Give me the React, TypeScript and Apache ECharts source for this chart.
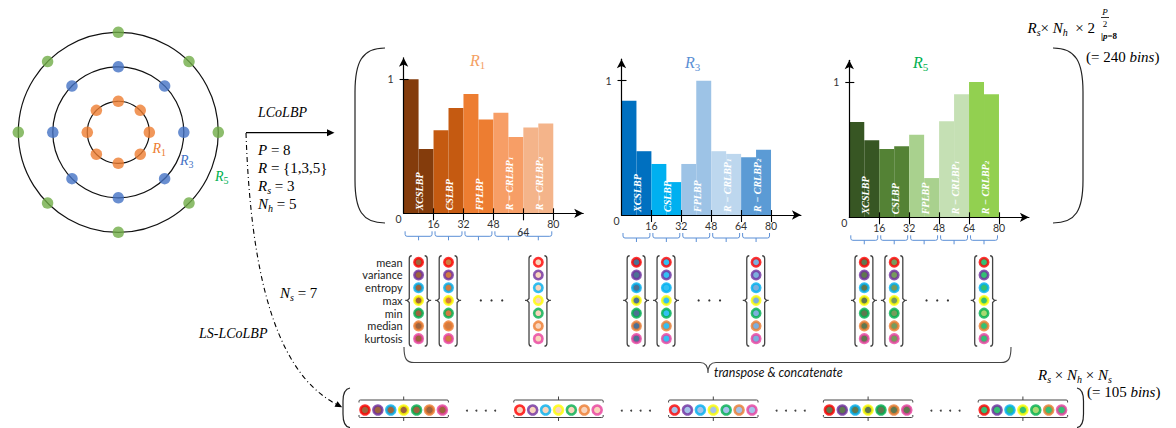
import React, { useEffect, useRef } from 'react';
import * as echarts from 'echarts';

// ---------------- data ----------------
const statNames = ['mean', 'variance', 'entropy', 'max', 'min', 'median', 'kurtosis'];
const statRingColors = ['#FF0000', '#7030A0', '#00B0F0', '#FFFF00', '#00B050', '#ED7D31', '#E8409F'];

const featureLabels = ['XCSLBP', 'CSLBP', 'FPLBP', 'R − CRLBP{d|1}', 'R − CRLBP{d|2}'];
const xTickValues = [16, 32, 48, 64, 80];
const yTickValues = [1];
const yLabelValues = [0, 1];
const binsPerFeature = 16;
const barsPerFeature = 2;

const r1Values = [1.0, 0.48, 0.62, 0.785, 0.89, 0.7, 0.75, 0.57, 0.64, 0.67];
const r3Values = [0.85, 0.475, 0.38, 0.245, 0.38, 1.0, 0.475, 0.455, 0.43, 0.485];
const r5Values = [0.705, 0.57, 0.505, 0.525, 0.61, 0.29, 0.71, 0.91, 1.0, 0.91];

const r1Colors = ['#843C0C', '#C55A11', '#ED7D31', '#F79E66', '#F4B48A'];
const r3Colors = ['#0070C0', '#00B0F0', '#9DC3E6', '#BDD7EE', '#5B9BD5'];
const r5Colors = ['#375623', '#548235', '#A9D18E', '#C5E0B4', '#92D050'];

const shownColumnCenters = [8, 24, 72];
const ellipsisCenter = 47;

const r1ColumnInner = [
  ['#843C0C', '#843C0C', '#843C0C', '#843C0C', '#843C0C', '#843C0C', '#843C0C'],
  ['#C55A11', '#C55A11', '#C55A11', '#C55A11', '#C55A11', '#C55A11', '#C55A11'],
  ['#F8CBAD', '#F8CBAD', '#F8CBAD', '#F8CBAD', '#F8CBAD', '#F8CBAD', '#F8CBAD'],
];
const r3ColumnInner = [
  ['#1F4E79', '#1F4E79', '#1F4E79', '#1F4E79', '#1F4E79', '#1F4E79', '#1F4E79'],
  ['#00B0F0', '#00B0F0', '#00B0F0', '#00B0F0', '#00B0F0', '#00B0F0', '#00B0F0'],
  ['#5B9BD5', '#5B9BD5', '#5B9BD5', '#5B9BD5', '#5B9BD5', '#5B9BD5', '#5B9BD5'],
];
const r5ColumnInner = [
  ['#375623', '#375623', '#375623', '#375623', '#375623', '#375623', '#375623'],
  ['#548235', '#548235', '#548235', '#548235', '#548235', '#548235', '#548235'],
  ['#00B050', '#00B050', '#00B050', '#00B050', '#92D050', '#00B050', '#00B050'],
];
const r3LightInner = ['#8FB4E3', '#8FB4E3', '#8FB4E3', '#8FB4E3', '#8FB4E3', '#8FB4E3', '#8FB4E3'];

const bottomGroupStarts = [0, 12, 24, 36, 48];
const bottomGroupInner = [r1ColumnInner[0], r1ColumnInner[2], r3LightInner, r5ColumnInner[0], r5ColumnInner[2]];

const ringRadii = [1, 3, 5];
const ringDotColors = ['#ED7D31', '#4472C4', '#70AD47'];
const neighbourAngles = [0, 45, 90, 135, 180, 225, 270, 315];

const histValues = [r1Values, r3Values, r5Values];
const histColors = [r1Colors, r3Colors, r5Colors];
const histColumnInner = [r1ColumnInner, r3ColumnInner, r5ColumnInner];

// ---------------- layout ----------------
const SERIF = 'Liberation Serif';
const SANS = 'Lato';
const X_MAX = 96;
const Y_MAX = 1.16;
const HIST_LAYOUT = [
  { left: 403.6, base: 213.3, unitY: 134, unitX: 1.871 },
  { left: 621.5, base: 215, unitY: 134.3, unitX: 1.869 },
  { left: 849.3, base: 217.3, unitY: 135.3, unitX: 1.871 },
];
const STATS_TOP = 255.9;
const STATS_HEIGHT = 89.1;

function mathRich(size: number, color = '#000') {
  const sub = Math.round(size * 0.68);
  return {
    i: { fontFamily: SERIF, fontStyle: 'italic', fontSize: size, lineHeight: size + 4, fill: color, color },
    n: { fontFamily: SERIF, fontSize: size, lineHeight: size + 4, fill: color, color },
    s: { fontFamily: SERIF, fontStyle: 'italic', fontSize: sub, lineHeight: sub, verticalAlign: 'bottom', fill: color, color },
    d: { fontFamily: SERIF, fontSize: sub, lineHeight: sub, verticalAlign: 'bottom', fill: color, color },
    b: { fontFamily: SERIF, fontWeight: 'bold', fontStyle: 'italic', fontSize: size, lineHeight: size + 4, fill: color, color },
  };
}

function gText(x: number, y: number, text: string, size: number, color = '#000', font?: string, align = 'left') {
  return {
    type: 'text',
    x,
    y,
    silent: true,
    z: 20,
    style: {
      text,
      fill: color,
      font: font || `${size}px "${SERIF}"`,
      align,
      verticalAlign: 'middle',
      textAlign: align,
      textVerticalAlign: 'middle',
      rich: mathRich(size, color),
    },
  };
}

function buildOption(): any {
  const grids: any[] = [];
  const xAxes: any[] = [];
  const yAxes: any[] = [];
  const series: any[] = [];
  const axisFont = { fontFamily: SANS, fontSize: 10.5, color: '#333' };
  const binW = binsPerFeature / barsPerFeature;

  // histogram grids 0..2
  HIST_LAYOUT.forEach((L) => {
    grids.push({
      left: L.left,
      top: L.base - Y_MAX * L.unitY,
      width: X_MAX * L.unitX,
      height: Y_MAX * L.unitY,
      containLabel: false,
      outerBoundsMode: 'none',
    });
  });
  // stats grids 3..5
  HIST_LAYOUT.forEach((L) => {
    grids.push({ left: L.left, top: STATS_TOP, width: X_MAX * L.unitX, height: STATS_HEIGHT, containLabel: false, outerBoundsMode: 'none' });
  });
  // bottom grid 6
  grids.push({ left: 365, top: 400, width: 774, height: 20, containLabel: false, outerBoundsMode: 'none' });

  // main x axes 0..2
  HIST_LAYOUT.forEach((L, h) => {
    xAxes.push({
      gridIndex: h,
      type: 'value',
      min: 0,
      max: X_MAX,
      position: 'bottom',
      z: 10,
      axisLine: { show: true, onZero: false, symbol: ['none', 'arrow'], symbolSize: [7, 9], lineStyle: { color: '#000', width: 1.2 } },
      axisTick: { show: true, customValues: xTickValues, length: 7, lineStyle: { color: '#000', width: 1.1 } },
      axisLabel: {
        show: true,
        customValues: xTickValues,
        margin: 5,
        ...axisFont,
        formatter: (v: number) => (h === 0 && v === 64 ? '{lo|64}' : '{n|' + v + '}'),
        rich: { n: { ...axisFont }, lo: { ...axisFont, padding: [8, 0, 0, 0] } },
      },
      splitLine: { show: false },
    });
  });
  // inner tick x axes 3..5
  HIST_LAYOUT.forEach((L, h) => {
    xAxes.push({
      gridIndex: h,
      type: 'value',
      min: 0,
      max: X_MAX,
      position: 'bottom',
      z: 10,
      axisLine: { show: false, onZero: false },
      axisTick: { show: true, inside: true, customValues: xTickValues, length: 5, lineStyle: { color: '#000', width: 1.1 } },
      axisLabel: { show: false },
      splitLine: { show: false },
    });
  });
  // stats x 6..8
  HIST_LAYOUT.forEach((L, h) => {
    xAxes.push({ gridIndex: 3 + h, type: 'value', min: 0, max: X_MAX, show: false, splitLine: { show: false } });
  });
  // bottom x 9
  xAxes.push({ gridIndex: 6, type: 'value', min: 0, max: 60, show: false, splitLine: { show: false } });

  // main y axes 0..2
  HIST_LAYOUT.forEach((L, h) => {
    yAxes.push({
      gridIndex: h,
      type: 'value',
      min: 0,
      max: Y_MAX,
      position: 'left',
      z: 10,
      axisLine: { show: true, onZero: false, symbol: ['none', 'arrow'], symbolSize: [7, 9], lineStyle: { color: '#000', width: 1.2 } },
      axisTick: { show: true, customValues: yTickValues, length: 4, lineStyle: { color: '#000', width: 1.1 } },
      axisLabel: {
        show: true,
        customValues: yLabelValues,
        margin: 2,
        ...axisFont,
        formatter: (v: number) => (v === 0 ? '{z|0}' : '{o|' + v + '}'),
        rich: { z: { ...axisFont, padding: [12, 0, 0, 0] }, o: { ...axisFont, padding: [0, 8, 0, 0] } },
      },
      splitLine: { show: false },
    });
  });
  // inner tick y axes 3..5
  HIST_LAYOUT.forEach((L, h) => {
    yAxes.push({
      gridIndex: h,
      type: 'value',
      min: 0,
      max: Y_MAX,
      position: 'left',
      z: 10,
      axisLine: { show: false, onZero: false },
      axisTick: { show: true, inside: true, customValues: yTickValues, length: 5, lineStyle: { color: '#000', width: 1.1 } },
      axisLabel: { show: false },
      splitLine: { show: false },
    });
  });
  // stats y 6..8
  HIST_LAYOUT.forEach((L, h) => {
    yAxes.push({
      gridIndex: 3 + h,
      type: 'category',
      data: statNames,
      inverse: true,
      axisLine: { show: false },
      axisTick: { show: false },
      axisLabel: { show: h === 0, interval: 0, margin: 1, fontFamily: SANS, fontSize: 11, color: '#222' },
      splitLine: { show: false },
    });
  });
  // bottom y 9
  yAxes.push({ gridIndex: 6, type: 'value', min: -1, max: 1, show: false, splitLine: { show: false } });

  // ---------- histogram series ----------
  histValues.forEach((values, h) => {
    const colors = histColors[h];
    series.push({
      type: 'custom',
      xAxisIndex: h,
      yAxisIndex: h,
      clip: false,
      z: 2,
      silent: true,
      data: values.map((v, k) => [k * binW, (k + 1) * binW, v, Math.floor(k / barsPerFeature)]),
      renderItem: (params: any, api: any) => {
        const p0 = api.coord([api.value(0), api.value(2)]);
        const p1 = api.coord([api.value(1), 0]);
        return {
          type: 'rect',
          shape: { x: p0[0], y: p0[1], width: p1[0] - p0[0], height: p1[1] - p0[1] },
          style: { fill: colors[api.value(3)] },
        };
      },
    });
    // vertical feature labels
    series.push({
      type: 'custom',
      xAxisIndex: h,
      yAxisIndex: h,
      clip: false,
      z: 3,
      silent: true,
      data: featureLabels.map((_, g) => [g * binsPerFeature + binsPerFeature / 2, g]),
      renderItem: (params: any, api: any) => {
        const p = api.coord([api.value(0), 0]);
        return {
          type: 'text',
          x: p[0] + 1,
          y: p[1] - 3,
          rotation: Math.PI / 2,
          style: {
            text: featureLabels[api.value(1)],
            fill: '#fff',
            font: `italic bold 10px "${SERIF}"`,
            align: 'left',
            verticalAlign: 'middle',
            textAlign: 'left',
            textVerticalAlign: 'middle',
            rich: {
              d: { fontFamily: SERIF, fontStyle: 'italic', fontWeight: 'bold', fontSize: 7, lineHeight: 7, verticalAlign: 'bottom', fill: '#fff' },
            },
          },
        };
      },
    });
    // blue braces under feature groups
    series.push({
      type: 'custom',
      xAxisIndex: h,
      yAxisIndex: h,
      clip: false,
      z: 3,
      silent: true,
      data: featureLabels.map((_, g) => [g * binsPerFeature, (g + 1) * binsPerFeature]),
      renderItem: (params: any, api: any) => {
        const a = api.coord([api.value(0), 0]);
        const b = api.coord([api.value(1), 0]);
        const x0 = a[0] + 1.5;
        const x1 = b[0] - 1.5;
        const xm = (x0 + x1) / 2;
        const y0 = a[1] + 18;
        const y1 = a[1] + 23;
        const d = `M${x0},${y0} L${x0},${y1 - 2} Q${x0},${y1} ${x0 + 2},${y1} L${x1 - 2},${y1} Q${x1},${y1} ${x1},${y1 - 2} L${x1},${y0} M${xm},${y1} L${xm},${y1 + 4}`;
        return { type: 'path', shape: { pathData: d }, style: { fill: 'none', stroke: '#5B8FD6', lineWidth: 1 } };
      },
    });

    // ---------- statistics columns ----------
    const inner = histColumnInner[h];
    series.push({
      type: 'scatter',
      xAxisIndex: 6 + h,
      yAxisIndex: 6 + h,
      symbol: 'circle',
      symbolSize: 8.4,
      z: 4,
      silent: true,
      data: shownColumnCenters.flatMap((x, c) =>
        statNames.map((s, i) => ({
          value: [x, i],
          itemStyle: { color: inner[c][i], borderColor: statRingColors[i], borderWidth: 2.6 },
        }))
      ),
    });
    series.push({
      type: 'custom',
      xAxisIndex: 6 + h,
      yAxisIndex: 6 + h,
      clip: false,
      z: 3,
      silent: true,
      data: shownColumnCenters.map((x) => [x, 0]),
      renderItem: (params: any, api: any) => {
        const x = api.value(0);
        const top = api.coord([x, 0]);
        const bot = api.coord([x, statNames.length - 1]);
        const mid = api.coord([x, 3]);
        const yT = top[1] - 6.5;
        const yB = bot[1] + 7.5;
        const ym = mid[1];
        const xl = top[0] - 9.3;
        const xr = top[0] + 8.6;
        const dl = `M${xl + 2.5},${yT} Q${xl},${yT} ${xl},${yT + 3} L${xl},${ym - 2} L${xl - 2},${ym} L${xl},${ym + 2} L${xl},${yB - 3} Q${xl},${yB} ${xl + 2.5},${yB} M${xl - 2},${ym} L${xl - 4},${ym}`;
        const dr = `M${xr - 2.5},${yT} Q${xr},${yT} ${xr},${yT + 3} L${xr},${ym - 2} L${xr + 2},${ym} L${xr},${ym + 2} L${xr},${yB - 3} Q${xr},${yB} ${xr - 2.5},${yB} M${xr + 2},${ym} L${xr + 4},${ym}`;
        return {
          type: 'group',
          children: [
            { type: 'path', shape: { pathData: dl }, style: { fill: 'none', stroke: '#444', lineWidth: 1.3 } },
            { type: 'path', shape: { pathData: dr }, style: { fill: 'none', stroke: '#444', lineWidth: 1.3 } },
          ],
        };
      },
    });
    series.push({
      type: 'custom',
      xAxisIndex: 6 + h,
      yAxisIndex: 6 + h,
      clip: false,
      z: 3,
      silent: true,
      data: [[ellipsisCenter, 3]],
      renderItem: (params: any, api: any) => {
        const p = api.coord([api.value(0), api.value(1)]);
        return {
          type: 'group',
          children: [-10.7, 0, 10.7].map((o) => ({ type: 'circle', shape: { cx: p[0] + o, cy: p[1], r: 1.1 }, style: { fill: '#333' } })),
        };
      },
    });
  });

  // ---------- bottom concatenated vector ----------
  series.push({
    type: 'scatter',
    xAxisIndex: 9,
    yAxisIndex: 9,
    symbol: 'circle',
    symbolSize: 9,
    z: 4,
    silent: true,
    data: bottomGroupStarts.flatMap((s, g) =>
      statNames.map((n, i) => ({
        value: [s + i, 0],
        itemStyle: { color: bottomGroupInner[g][i], borderColor: statRingColors[i], borderWidth: 2.6 },
      }))
    ),
  });
  series.push({
    type: 'custom',
    xAxisIndex: 9,
    yAxisIndex: 9,
    clip: false,
    z: 3,
    silent: true,
    data: bottomGroupStarts.map((s) => [s, s + statNames.length - 1]),
    renderItem: (params: any, api: any) => {
      const a = api.coord([api.value(0), 0]);
      const b = api.coord([api.value(1), 0]);
      const x0 = a[0] - 6;
      const x1 = b[0] + 6;
      const xm = (x0 + x1) / 2;
      const yc = a[1];
      const t = yc - 10;
      const u = yc + 7.5;
      const dt = `M${x0},${t + 2.5} L${x0},${t + 1} Q${x0},${t} ${x0 + 1.5},${t} L${x1 - 1.5},${t} Q${x1},${t} ${x1},${t + 1} L${x1},${t + 2.5} M${xm},${t} L${xm},${t - 3.5}`;
      const db = `M${x0},${u - 2.5} L${x0},${u - 1} Q${x0},${u} ${x0 + 1.5},${u} L${x1 - 1.5},${u} Q${x1},${u} ${x1},${u - 1} L${x1},${u - 2.5} M${xm},${u} L${xm},${u + 3.5}`;
      return {
        type: 'group',
        children: [
          { type: 'path', shape: { pathData: dt }, style: { fill: 'none', stroke: '#444', lineWidth: 1 } },
          { type: 'path', shape: { pathData: db }, style: { fill: 'none', stroke: '#444', lineWidth: 1 } },
        ],
      };
    },
  });
  series.push({
    type: 'custom',
    xAxisIndex: 9,
    yAxisIndex: 9,
    clip: false,
    z: 3,
    silent: true,
    data: bottomGroupStarts.slice(0, -1).map((s) => [s + 9, 0]),
    renderItem: (params: any, api: any) => {
      const p = api.coord([api.value(0), 0]);
      return {
        type: 'group',
        children: [-14.1, -4.7, 4.7, 14.1].map((o) => ({ type: 'circle', shape: { cx: p[0] + o, cy: p[1] + 0.7, r: 1 }, style: { fill: '#444' } })),
      };
    },
  });

  // ---------- circular neighbourhood ----------
  series.push({
    type: 'custom',
    coordinateSystem: 'polar',
    polarIndex: 0,
    z: 1,
    silent: true,
    data: ringRadii.map((r) => [r, 0]),
    renderItem: (params: any, api: any) => {
      const cs = params.coordSys;
      const p = api.coord([api.value(0), 0]);
      const rad = Math.hypot(p[0] - cs.cx, p[1] - cs.cy);
      return { type: 'circle', shape: { cx: cs.cx, cy: cs.cy, r: rad }, style: { fill: 'none', stroke: '#111', lineWidth: 1.2 } };
    },
  });
  ringRadii.forEach((r, k) => {
    series.push({
      type: 'scatter',
      coordinateSystem: 'polar',
      polarIndex: 0,
      symbol: 'circle',
      symbolSize: 11.5,
      z: 2,
      silent: true,
      itemStyle: { color: ringDotColors[k] },
      data: neighbourAngles.map((a) => [r, a]),
    });
  });

  // ---------- decorative brackets and arrows ----------
  const deco = (d: string, extra: any = {}) => ({ type: 'path', shape: { pathData: d }, style: { fill: 'none', stroke: '#222', lineWidth: 1.2, ...extra } });
  const curveEnd = [336, 404];
  const cp2 = [268, 368.5];
  const dx = curveEnd[0] - cp2[0];
  const dy = curveEnd[1] - cp2[1];
  const len = Math.hypot(dx, dy);
  const ux = dx / len;
  const uy = dy / len;
  const tip = [curveEnd[0] + 7 * ux, curveEnd[1] + 7 * uy];
  const n = [-uy * 3.2, ux * 3.2];
  series.push({
    type: 'custom',
    coordinateSystem: 'none',
    z: 5,
    silent: true,
    data: [[0]],
    renderItem: () => ({
      type: 'group',
      children: [
        deco('M385,48 C362,48 355,62 355,92 L355,180 C355,210 362,223 385,223'),
        deco('M1053,48 C1076,48 1083,62 1083,92 L1083,180 C1083,210 1076,223 1053,223'),
        deco('M350,388 C344.5,389 343,395 343,401 L343,414 C343,421 344.5,427 350,427.5'),
        deco('M1077,388 C1082,389 1083.5,395 1083.5,401 L1083.5,414 C1083.5,421 1082,427 1077,427.5'),
        deco('M404,347 C404,358 406,362.5 414,362.5 L700,362.5 C705,362.5 708,365 708,373 C708,365 711,362.5 716,362.5 L1001,362.5 C1009,362.5 1011,358 1011,347', { stroke: '#444', lineWidth: 1.1 }),
        deco('M246,132.7 L327,132.7', { stroke: '#000', lineWidth: 1.2 }),
        { type: 'polygon', shape: { points: [[327, 129.2], [334.5, 132.7], [327, 136.2]] }, style: { fill: '#000' } },
        deco(`M246,133 C250,250 ${cp2[0]},${cp2[1]} ${curveEnd[0]},${curveEnd[1]}`, { stroke: '#000', lineWidth: 1.1, lineDash: [5, 3, 1, 3] }),
        {
          type: 'polygon',
          shape: { points: [tip, [curveEnd[0] + n[0], curveEnd[1] + n[1]], [curveEnd[0] - n[0], curveEnd[1] - n[1]]] },
          style: { fill: '#000' },
        },
      ],
    }),
  });

  const graphics: any[] = [
    gText(258, 112, '{i|LCoLBP}', 14),
    gText(258, 150, '{i|P} = 8', 15),
    gText(258, 168, '{i|R} = {1,3,5}', 15),
    gText(258, 186, '{i|R}{s|s} = 3', 15),
    gText(258, 203.5, '{i|N}{s|h} = 5', 15),
    gText(280, 293, '{i|N}{s|s} = 7', 15),
    gText(199, 333, '{i|LS-LCoLBP}', 14),
    gText(152.5, 148, '{i|R}{d|1}', 14, '#ED7D31'),
    gText(180, 160.5, '{i|R}{d|3}', 14, '#4472C4'),
    gText(215, 176, '{i|R}{d|5}', 14, '#00B050'),
    gText(470, 60, '{i|R}{d|1}', 16, '#F4A062'),
    gText(685, 62, '{i|R}{d|3}', 16, '#5B8FD4'),
    gText(913, 62, '{i|R}{d|5}', 16, '#00B050'),
    gText(1027.5, 28, '{i|R}{s|s}× {i|N}{s|h}  × 2', 15),
    gText(1105, 12, '{i|P}', 9, '#000', undefined, 'center'),
    { type: 'line', silent: true, z: 20, shape: { x1: 1101, y1: 17.5, x2: 1109, y2: 17.5 }, style: { stroke: '#000', lineWidth: 0.8 } },
    gText(1105, 23.5, '2', 9, '#000', undefined, 'center'),
    gText(1101, 36, '|{b|p}=8', 9, '#000', `bold 9px "${SERIF}"`),
    gText(1086, 57, '(= 240 {i|bins})', 15),
    gText(1038, 375, '{i|R}{s|s} × {i|N}{s|h} × {i|N}{s|s}', 15),
    gText(1087, 392, '(= 105 {i|bins})', 15),
    gText(714, 372, 'transpose & concatenate', 12.5, '#111', `italic 12.5px "${SANS}"`),
  ];
  graphics[17].style.rich.b = { fontFamily: SERIF, fontWeight: 'bold', fontStyle: 'italic', fontSize: 9, fill: '#000' };

  return {
    animation: false,
    backgroundColor: '#fff',
    grid: grids,
    xAxis: xAxes,
    yAxis: yAxes,
    polar: { center: [118.3, 132.3], radius: 100 },
    angleAxis: { type: 'value', min: 0, max: 360, startAngle: 90, show: false, splitLine: { show: false } },
    radiusAxis: { type: 'value', min: -0.8, max: 5, show: false, splitLine: { show: false } },
    series,
    graphic: graphics,
  };
}

export default function App() {
  const ref = useRef<HTMLDivElement>(null);
  useEffect(() => {
    const chart = echarts.init(ref.current as HTMLDivElement, null, { renderer: 'svg' });
    chart.setOption(buildOption());
    return () => chart.dispose();
  }, []);
  return <div ref={ref} style={{ position: 'fixed', left: 0, top: 0, width: 1176, height: 428, background: '#fff' }} />;
}
